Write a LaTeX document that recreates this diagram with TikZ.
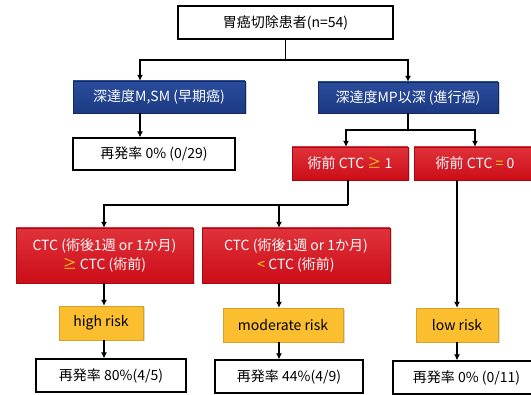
\documentclass[tikz,border=0pt]{standalone}
\usepackage{fontspec}
\setmainfont{Noto Sans CJK JP}
\usetikzlibrary{arrows.meta,shadows,calc}
\definecolor{navy}{HTML}{1C3A82}
\definecolor{navyl}{HTML}{2A4C9C}
\definecolor{redb}{HTML}{CC0D18}
\definecolor{redl}{HTML}{E0323A}
\definecolor{gold}{HTML}{FBBE2E}
\definecolor{hl}{HTML}{FFD21F}
\tikzset{
  box/.style={draw=black, line width=1.2pt, fill=white, inner sep=0pt, font=\fontsize{14}{17}\selectfont},
  bluebox/.style={draw=navy!70!black, line width=0.4pt, top color=navyl, bottom color=navy, text=white, inner sep=0pt,
    drop shadow={shadow xshift=1.5pt, shadow yshift=-1.5pt, opacity=0.35}, font=\fontsize{14}{17}\selectfont},
  redbox/.style={draw=redb!80!black, line width=0.4pt, top color=redl, bottom color=redb, text=white, inner sep=0pt, align=center,
    drop shadow={shadow xshift=1.5pt, shadow yshift=-1.5pt, opacity=0.35}, font=\fontsize{14}{19}\selectfont},
  goldbox/.style={draw=gold!85!black, line width=0.4pt, fill=gold, inner sep=0pt,
    drop shadow={shadow xshift=1.5pt, shadow yshift=-1.5pt, opacity=0.3}, font=\fontsize{14}{17}\selectfont},
  ln/.style={draw=black, line width=1.6pt},
  arr/.style={ln, -{Latex[length=6pt,width=6pt]}},
}
\newcommand{\bx}[6]{\node[#1, minimum width={#4-#2}, minimum height={#5-#3}] (#6) at ({(#2+#4)/2},{(#3+#5)/2})}
\begin{document}
\begin{tikzpicture}[x=1pt,y=-1pt]
\useasboundingbox (0,0) rectangle (531,395);
\begin{scope}
\clip (0,0) rectangle (531,395);
\bx{box}{178}{6}{393}{39}{top} {胃癌切除患者(n=54)};
\bx{bluebox}{73}{81}{245}{113}{b1} {深達度M,SM (早期癌)};
\bx{bluebox}{318}{82}{498}{113}{b2} {深達度MP以深 (進行癌)};
\bx{box}{73}{138}{235}{170}{res0} {再発率 0\% (0/29)};
\bx{redbox}{292}{147}{408}{180}{pos} {術前 CTC \textcolor{hl}{≥} 1};
\bx{redbox}{414}{147}{536}{180}{zero} {術前 CTC \textcolor{hl}{=} 0};
\bx{redbox}{16}{228}{193}{283}{inc} {CTC (術後1週 or 1か月)\\\textcolor{hl}{≥} CTC (術前)};
\bx{redbox}{202}{228}{390}{283}{dec} {CTC (術後1週 or 1か月)\\\textcolor{hl}{<} CTC (術前)};
\bx{goldbox}{59}{306}{143}{340}{high} {high risk};
\bx{goldbox}{223}{308}{343}{342}{mod} {moderate risk};
\bx{goldbox}{416}{308}{498}{342}{low} {low risk};
\bx{box}{36}{359}{186}{392}{r1} {再発率 80\%(4/5)};
\bx{box}{215}{360}{363}{393}{r2} {再発率 44\%(4/9)};
\bx{box}{393}{361}{540}{394}{r3} {再発率 0\% (0/11)};

\coordinate (j1) at (285.5,60);
\coordinate (j2) at (408,130);
\coordinate (j3) at (348,205);
\coordinate (x140) at (140,0);
\coordinate (x346) at (346,0);
\coordinate (x475) at (475,0);
\coordinate (x104) at (104,0);
\coordinate (x279) at (279,0);
\coordinate (x457) at (457,0);

\draw[ln] (top.south) -- (j1);
\draw[arr] (j1) -| (b1.north -| x140);
\draw[arr] (j1) -| (b2.north);
\draw[arr] (b1.south -| x140) -- (res0.north -| x140);
\draw[ln] (b2.south) -- (j2);
\draw[arr] (j2) -| (pos.north -| x346);
\draw[arr] (j2) -| (zero.north -| x475);
\draw[ln] (pos.south -| j3) -- (j3);
\draw[arr] (j3) -| (inc.north -| x104);
\draw[arr] (j3) -| (dec.north -| x279);
\draw[arr] (zero.south -| x457) -- (low.north -| x457);
\draw[arr] (inc.south -| x104) -- (high.north -| x104);
\draw[arr] (dec.south -| x279) -- (mod.north -| x279);
\draw[arr] (high.south -| x104) -- (r1.north -| x104);
\draw[arr] (mod.south -| x279) -- (r2.north -| x279);
\draw[arr] (low.south -| x457) -- (r3.north -| x457);
\end{scope}
\end{tikzpicture}
\end{document}
